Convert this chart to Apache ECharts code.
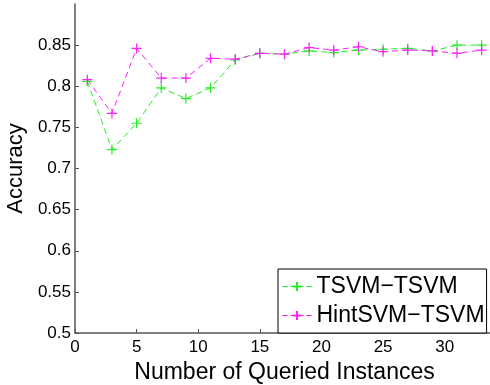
<!DOCTYPE html>
<html>
<head>
<meta charset="utf-8">
<script src="https://cdn.jsdelivr.net/npm/echarts@6/dist/echarts.min.js"></script>
<style>
  html, body { margin: 0; padding: 0; background: #fff; }
  #chart { width: 490px; height: 385px; }
</style>
</head>
<body>
<div id="chart"></div>
<script>
// Number of queried instances (x positions of the samples)
const queried = [1, 3, 5, 7, 9, 11, 13, 15, 17, 19, 21, 23, 25, 27, 29, 31, 33];
// Accuracy of each strategy
const tsvmTsvm = [0.806, 0.723, 0.755, 0.798, 0.785, 0.798, 0.832, 0.840, 0.839, 0.843, 0.841, 0.844, 0.845, 0.846, 0.843, 0.850, 0.850];
const hintsvmTsvm = [0.808, 0.767, 0.846, 0.810, 0.810, 0.834, 0.833, 0.840, 0.839, 0.847, 0.844, 0.848, 0.842, 0.844, 0.843, 0.840, 0.844];
const seriesNames = ['TSVM\u2212TSVM', 'HintSVM\u2212TSVM'];
const xTitle = 'Number of Queried Instances';
const yTitle = 'Accuracy';

const FONT = '"Liberation Sans", Arial, Helvetica, sans-serif';
const plus = 'path://M5,0L5,10M0,5L10,5';

function pairs(xs, ys) { return xs.map((x, i) => [x, ys[i]]); }

function lineSeries(name, ys, color) {
  return {
    name: name,
    type: 'line',
    data: pairs(queried, ys),
    symbol: plus,
    symbolSize: 10,
    showAllSymbol: true,
    lineStyle: { color: color, width: 1, type: [6, 4] },
    itemStyle: { color: 'rgba(0,0,0,0)', borderColor: color, borderWidth: 1.2 },
    emphasis: { disabled: true },
    animation: false
  };
}

const axisColor = '#555';
const chart = echarts.init(document.getElementById('chart'), null, { renderer: 'canvas' });
chart.setOption({
  backgroundColor: '#fff',
  animation: false,
  grid: { left: 75, top: 4, right: -4, bottom: 52, containLabel: false, outerBoundsMode: 'none' },
  xAxis: {
    type: 'value', min: 0, max: 34, interval: 5,
    name: xTitle, nameLocation: 'middle', nameGap: 25,
    nameTextStyle: { fontFamily: FONT, fontSize: 23, color: '#000' },
    axisLine: { lineStyle: { color: axisColor, width: 1.5 } },
    axisTick: { inside: true, length: 4, lineStyle: { color: axisColor } },
    axisLabel: { fontFamily: FONT, fontSize: 17, color: '#000', margin: 6, showMaxLabel: false },
    splitLine: { show: false }
  },
  yAxis: {
    type: 'value', min: 0.5, max: 0.9, interval: 0.05,
    name: yTitle, nameLocation: 'middle', nameGap: 44,
    nameTextStyle: { fontFamily: FONT, fontSize: 22, color: '#000' },
    axisLine: { show: true, lineStyle: { color: axisColor, width: 1.5 } },
    axisTick: { show: true, inside: true, length: 4, lineStyle: { color: axisColor } },
    axisLabel: {
      fontFamily: FONT, fontSize: 17, color: '#000', margin: 4, showMaxLabel: false,
      formatter: v => String(Math.round(v * 100) / 100)
    },
    splitLine: { show: false }
  },
  legend: {
    data: seriesNames,
    orient: 'vertical',
    left: 278, top: 269,
    padding: [5, 2, 5, 4],
    itemWidth: 29, itemHeight: 11, itemGap: 4,
    lineStyle: { type: [5, 3], width: 1 },
    backgroundColor: '#fff',
    borderColor: '#000', borderWidth: 1, borderRadius: 0,
    textStyle: { fontFamily: FONT, fontSize: 23, color: '#000', lineHeight: 25 }
  },
  series: [
    lineSeries(seriesNames[0], tsvmTsvm, '#22ee22'),
    lineSeries(seriesNames[1], hintsvmTsvm, '#ff22ff')
  ]
});
</script>
</body>
</html>
